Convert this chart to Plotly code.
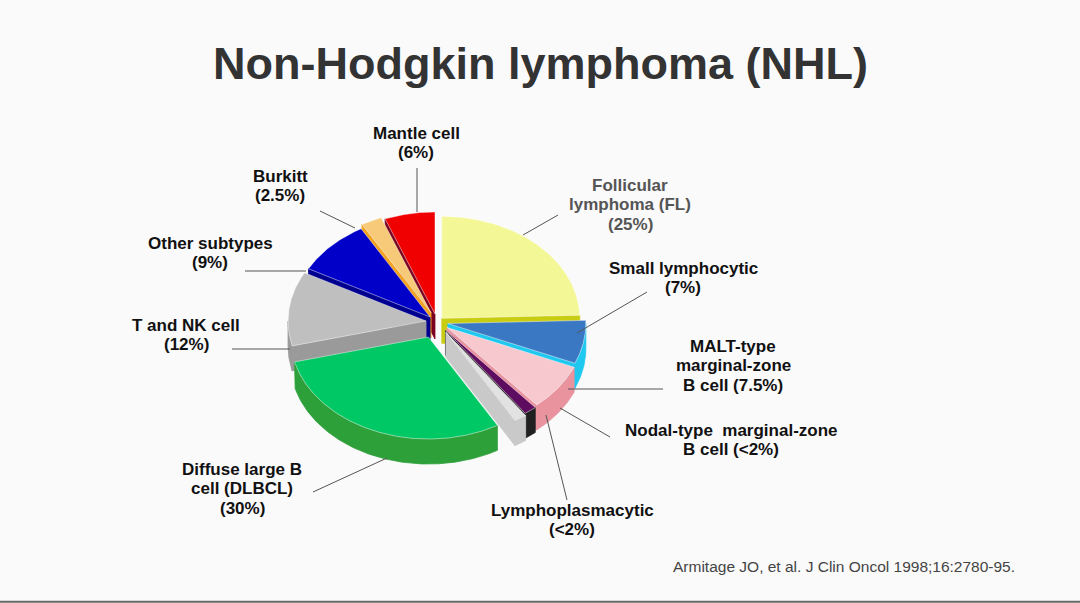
import numpy as np
import plotly.graph_objects as go

# ---------------- data ----------------
subtypes = ["Follicular lymphoma (FL)", "Small lymphocytic",
            "MALT-type marginal-zone B cell", "Nodal-type marginal-zone B cell",
            "Lymphoplasmacytic", "Diffuse large B cell (DLBCL)", "T and NK cell",
            "Other subtypes", "Burkitt", "Mantle cell"]
shares = [25, 7, 7.5, 1.5, 1.5, 30, 12, 9, 2.5, 6]
label_lines = [["Follicular", "lymphoma (FL)", "(25%)"],
               ["Small lymphocytic", "(7%)"],
               ["MALT-type", "marginal-zone", "B cell (7.5%)"],
               ["Nodal-type  marginal-zone", "B cell (<2%)"],
               ["Lymphoplasmacytic", "(<2%)"],
               ["Diffuse large B", "cell (DLBCL)", "(30%)"],
               ["T and NK cell", "(12%)"],
               ["Other subtypes", "(9%)"],
               ["Burkitt", "(2.5%)"],
               ["Mantle cell", "(6%)"]]

# ---------------- styles ----------------
top_colors = ["#F3F796", "#3B78C3", "#F7C9CF", "#5E0C60", "#E2E2E2",
              "#00C864", "#BFBFBF", "#0000C8", "#F6CA78", "#F00000"]
side_colors = ["#C9CD12", "#1FC8EF", "#E8939E", "#202020", "#C9C9C9",
               "#2EA03A", "#9A9A9A", "#000090", "#F2A21E", "#7A0020"]
pulls = [0.05, 0.08, 0.09, 0.10, 0.12, 0.16, 0.08, 0.07, 0.10, 0.08]

CX, CY, RX, RY, DEPTH = 437, 322, 138, 102, 25

# label centre (pixel) of the first line and leader line (x0, y0, x1, y1)
label_pos = [(630, 185), (683, 268), (733, 346), (731, 430), (572, 510),
             (242, 469), (186, 325), (210, 243), (280, 176), (416, 133)]
LINE_STEP = 19.5
leaders = [(558, 215, 523, 235), (647, 292, 577, 333), (663, 389, 568, 389),
           (610, 437, 560, 408), (567, 500, 546, 415), (313, 492, 387, 458),
           (232, 349, 290, 349), (245, 271, 306, 271), (320, 211, 355, 228),
           (417, 168, 417, 212)]
label_colors = ["#555555"] + ["#111111"] * 9

total = float(sum(shares))
angles = np.cumsum([0] + [v / total * 360.0 for v in shares])


def arc(a0, a1, dx, dy, down=0.0):
    t = np.radians(np.linspace(a0, a1, max(3, int(abs(a1 - a0) * 2) + 2)))
    return CX + dx + RX * np.sin(t), CY + dy - RY * np.cos(t) + down


faces = []
for i, v in enumerate(shares):
    a0, a1 = angles[i], angles[i + 1]
    mid = np.radians((a0 + a1) / 2)
    dx = pulls[i] * RX * np.sin(mid)
    dy = -pulls[i] * RY * np.cos(mid)
    cx, cy = CX + dx, CY + dy
    key = np.cos(mid)
    if np.sin(np.radians(a0)) < 0:
        ex, ey = arc(a0, a0, dx, dy)
        faces.append((key, 0, [cx, ex[0], ex[0], cx, cx],
                      [cy, ey[0], ey[0] + DEPTH, cy + DEPTH, cy], side_colors[i]))
    if np.sin(np.radians(a1)) > 0:
        ex, ey = arc(a1, a1, dx, dy)
        faces.append((key, 0, [cx, ex[0], ex[0], cx, cx],
                      [cy, ey[0], ey[0] + DEPTH, cy + DEPTH, cy], side_colors[i]))
    lo, hi = max(a0, 90.0), min(a1, 270.0)
    if lo < hi:
        tx, ty = arc(lo, hi, dx, dy)
        bx, by = arc(hi, lo, dx, dy, DEPTH)
        faces.append((key, 1, list(tx) + list(bx) + [tx[0]],
                      list(ty) + list(by) + [ty[0]], side_colors[i]))
    tx, ty = arc(a0, a1, dx, dy)
    faces.append((key, 2, [cx] + list(tx) + [cx], [cy] + list(ty) + [cy], top_colors[i]))

faces.sort(key=lambda f: (-f[0], f[1]))

fig = go.Figure()
for key, sub, xs, ys, col in faces:
    fig.add_trace(go.Scatter(
        x=xs, y=ys, mode="lines", fill="toself", fillcolor=col,
        line=dict(color="rgba(255,255,255,0.55)" if sub == 2 else col, width=0.8),
        hoverinfo="skip", showlegend=False))

annotations = []
for i in range(len(shares)):
    for j, line in enumerate(label_lines[i]):
        annotations.append(dict(
            x=label_pos[i][0], y=label_pos[i][1] + j * LINE_STEP, xref="x", yref="y",
            text=f"<b>{line}</b>", showarrow=False, xanchor="center", yanchor="middle",
            font=dict(family="Liberation Sans, Arial, sans-serif", size=17,
                      color=label_colors[i])))

annotations.append(dict(
    x=540, y=63, xref="x", yref="y",
    text="<b>Non-Hodgkin lymphoma (NHL)</b>", showarrow=False,
    xanchor="center", yanchor="middle",
    font=dict(family="Liberation Sans, Arial, sans-serif", size=45, color="#333333")))
annotations.append(dict(
    x=844, y=566, xref="x", yref="y",
    text="Armitage JO, et al. J Clin Oncol 1998;16:2780-95.", showarrow=False,
    xanchor="center", yanchor="middle",
    font=dict(family="Liberation Sans, Arial, sans-serif", size=15.5, color="#444444")))

shapes = [dict(type="line", xref="x", yref="y", x0=l[0], y0=l[1], x1=l[2], y1=l[3],
               line=dict(color="#555555", width=1)) for l in leaders]
shapes.append(dict(type="line", xref="paper", yref="paper", x0=0, x1=1, y0=0.002,
                   y1=0.002, line=dict(color="#666666", width=2)))

fig.update_layout(
    width=1080, height=603, margin=dict(l=0, r=0, t=0, b=0),
    paper_bgcolor="#FAFAFB", plot_bgcolor="#FAFAFB",
    xaxis=dict(range=[0, 1080], visible=False, fixedrange=True),
    yaxis=dict(range=[603, 0], visible=False, fixedrange=True),
    annotations=annotations, shapes=shapes, showlegend=False)

fig.write_html("out.html", config={"displayModeBar": False},
               post_script="document.body.style.margin='0';")
